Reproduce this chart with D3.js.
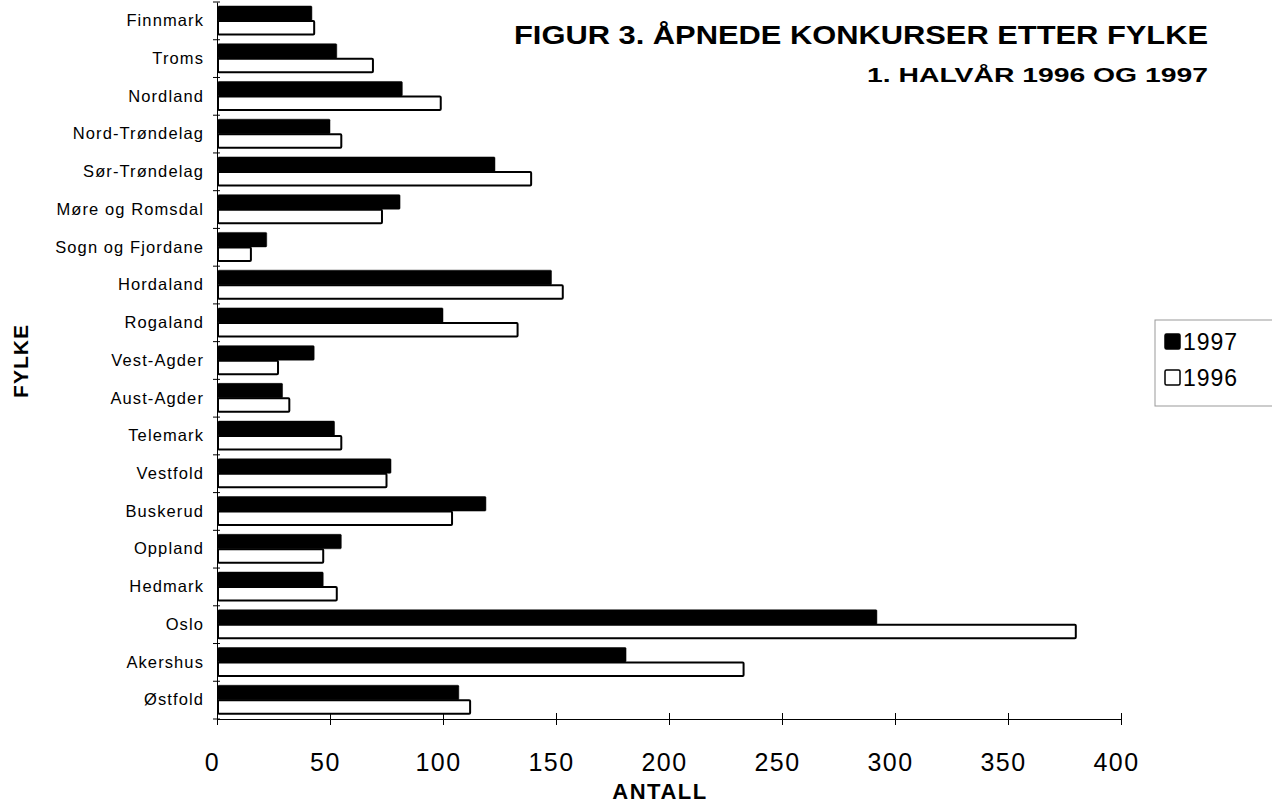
<!DOCTYPE html>
<html>
<head>
<meta charset="utf-8">
<title>Åpnede konkurser etter fylke</title>
<script src="https://d3js.org/d3.v7.min.js"></script>
<style>
    body { margin: 0; background: #fff; }
    text { font-family: "Liberation Sans", Arial, sans-serif; fill: #000; }
</style>
</head>
<body>
<div id="chart"></div>
<script>
    // Data (top to bottom as drawn)
    const fylker = ['Finnmark', 'Troms', 'Nordland', 'Nord-Trøndelag', 'Sør-Trøndelag', 'Møre og Romsdal',
        'Sogn og Fjordane', 'Hordaland', 'Rogaland', 'Vest-Agder', 'Aust-Agder', 'Telemark', 'Vestfold',
        'Buskerud', 'Oppland', 'Hedmark', 'Oslo', 'Akershus', 'Østfold'];
    const antall1997 = [42, 53, 82, 50, 123, 81, 22, 148, 100, 43, 29, 52, 77, 119, 55, 47, 292, 181, 107];
    const antall1996 = [43, 69, 99, 55, 139, 73, 15, 153, 133, 27, 32, 55, 75, 104, 47, 53, 380, 233, 112];
    const years = ['1997', '1996'];
    const xTicks = [0, 50, 100, 150, 200, 250, 300, 350, 400];

    const W = 1272, H = 805;
    const margin = { top: 2, left: 217 };
    const width = 904, height = 717;

    const svg = d3.select("#chart").append("svg")
        .attr("width", W).attr("height", H);
    const g = svg.append("g")
        .attr("transform", "translate(" + margin.left + "," + margin.top + ")");

    const x = d3.scaleLinear().domain([0, 400]).range([0, width]);
    const y = d3.scaleBand().domain(fylker).range([0, height]).padding(0);
    const y1 = d3.scaleBand().domain(years).range([4, 33]).padding(0);

    const rows = fylker.map((f, i) => ({ fylke: f, vals: [antall1997[i], antall1996[i]] }));

    // Bars
    const grp = g.selectAll("g.row").data(rows).enter().append("g")
        .attr("class", "row")
        .attr("transform", d => "translate(0," + y(d.fylke) + ")");

    grp.selectAll("rect")
        .data(d => years.map((yr, k) => ({ yr: yr, v: d.vals[k] })))
        .enter().append("rect")
        .attr("x", 1)
        .attr("y", d => y1(d.yr) + (d.yr === '1996' ? 0.5 : 0))
        .attr("width", d => x(d.v) - 1)
        .attr("height", d => y1.bandwidth() - (d.yr === '1996' ? 1 : 0))
        .attr("rx", 1)
        .style("fill", d => d.yr === '1997' ? "#000" : "#fff")
        .style("stroke", "#000")
        .style("stroke-width", d => d.yr === '1997' ? 0.5 : 2);

    // Left axis: labels centered in bands, ticks on band boundaries
    const yAxis = g.append("g").call(d3.axisLeft(y).tickSize(0).tickPadding(13));
    yAxis.select(".domain").attr("stroke", "#000").attr("stroke-width", 1);
    yAxis.selectAll(".tick text")
        .style("font-size", "16.5px")
        .style("letter-spacing", "1.1px")
        .style("font-family", "'Liberation Sans', Arial, sans-serif");

    g.selectAll("line.ytick").data(fylker.concat(["end"])).enter().append("line")
        .attr("class", "ytick")
        .attr("x1", -4).attr("x2", 3)
        .attr("y1", (d, i) => i * y.step())
        .attr("y2", (d, i) => i * y.step())
        .attr("stroke", "#000").attr("stroke-width", 1);

    // Bottom axis
    const xAxis = g.append("g")
        .attr("transform", "translate(0," + height + ")")
        .call(d3.axisBottom(x).tickValues(xTicks).tickSize(6).tickPadding(28));
    xAxis.select(".domain").attr("stroke", "#000").attr("stroke-width", 1);
    xAxis.selectAll(".tick line").attr("y1", -6).attr("y2", 6).attr("stroke", "#000");
    xAxis.selectAll(".tick text")
        .attr("dx", -5)
        .style("font-size", "25px")
        .style("letter-spacing", "1.5px")
        .style("font-family", "'Liberation Sans', Arial, sans-serif");

    // Axis titles
    svg.append("text")
        .attr("x", 660)
        .attr("y", 799)
        .style("text-anchor", "middle")
        .style("font-size", "22px")
        .style("font-weight", "bold")
        .style("letter-spacing", "1.5px")
        .text("ANTALL");

    svg.append("text")
        .attr("transform", "translate(28,361) rotate(-90)")
        .style("text-anchor", "middle")
        .style("font-size", "21px")
        .style("font-weight", "bold")
        .style("letter-spacing", "1px")
        .text("FYLKE");

    // Titles
    svg.append("text")
        .attr("x", 1208).attr("y", 44)
        .style("text-anchor", "end")
        .style("font-size", "26px")
        .style("font-weight", "bold")
        .attr("textLength", 694)
        .attr("lengthAdjust", "spacingAndGlyphs")
        .text("FIGUR 3. ÅPNEDE KONKURSER ETTER FYLKE");

    svg.append("text")
        .attr("x", 1208).attr("y", 82)
        .style("text-anchor", "end")
        .style("font-size", "21px")
        .style("font-weight", "bold")
        .attr("textLength", 341)
        .attr("lengthAdjust", "spacingAndGlyphs")
        .text("1. HALVÅR 1996 OG 1997");

    // Legend
    const legend = svg.append("g").attr("transform", "translate(1155,320)");
    legend.append("rect")
        .attr("x", 0).attr("y", 0).attr("width", 125).attr("height", 86)
        .style("fill", "#fff").style("stroke", "#999").style("stroke-width", 1);
    years.forEach((yr, k) => {
        legend.append("rect")
            .attr("x", 10).attr("y", 14 + k * 36)
            .attr("width", 15).attr("height", 15).attr("rx", 1.5)
            .style("fill", yr === '1997' ? "#000" : "#fff")
            .style("stroke", "#000").style("stroke-width", 1.5);
        legend.append("text")
            .attr("x", 28).attr("y", 30 + k * 36)
            .style("font-size", "23px")
            .style("letter-spacing", "1px")
            .text(yr);
    });
</script>
</body>
</html>
